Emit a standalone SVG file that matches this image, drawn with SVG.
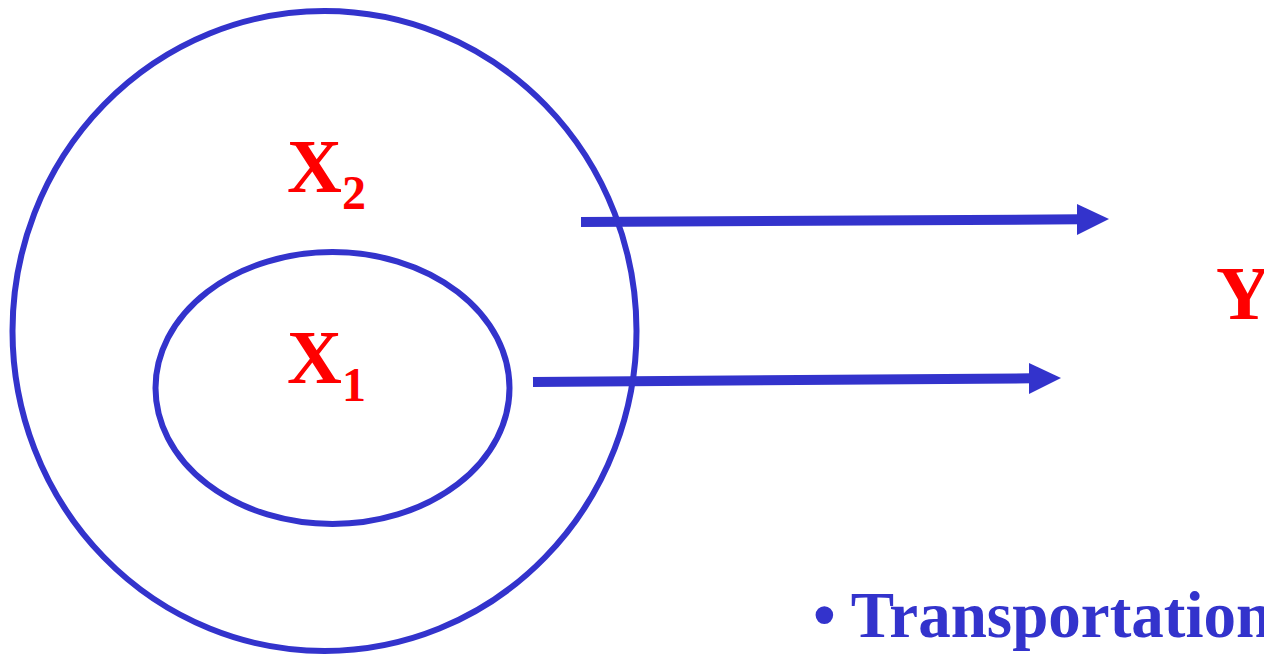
<svg xmlns="http://www.w3.org/2000/svg" width="1264" height="655" viewBox="0 0 1264 655">
<style>
.ring{fill:none;stroke:#3333CC;stroke-width:6}
.conn{stroke:#3333CC;stroke-width:10;fill:none}
.head{fill:#3333CC}
.lbl{font-family:"Liberation Serif",serif;font-weight:bold;fill:#FF0000}
.bul{font-family:"Liberation Serif",serif;font-weight:bold;fill:#3333CC}
</style>
<rect width="1264" height="655" fill="#fff"/>
<g id="outer"><ellipse class="ring" cx="324.5" cy="331" rx="312" ry="320"/>
<text class="lbl" x="287" y="192" font-size="76">X<tspan font-size="48" dy="17">2</tspan></text></g>
<g id="inner"><ellipse class="ring" cx="332.5" cy="388" rx="177" ry="136"/>
<text class="lbl" x="287" y="383" font-size="76">X<tspan font-size="48" dy="18">1</tspan></text></g>
<g id="y"><text class="lbl" x="1216" y="319" font-size="76">Y</text></g>
<g id="connectors">
<path class="conn" d="M581 222 L1080 219.3"/>
<polygon class="head" points="1077,204 1109,219 1077,235"/>
<path class="conn" d="M533 382 L1032 378.3"/>
<polygon class="head" points="1029,363 1061,378 1029,394"/>
</g>
<g id="bullet"><text class="bul" x="813" y="637" font-size="65">• Transportation</text></g>
</svg>
